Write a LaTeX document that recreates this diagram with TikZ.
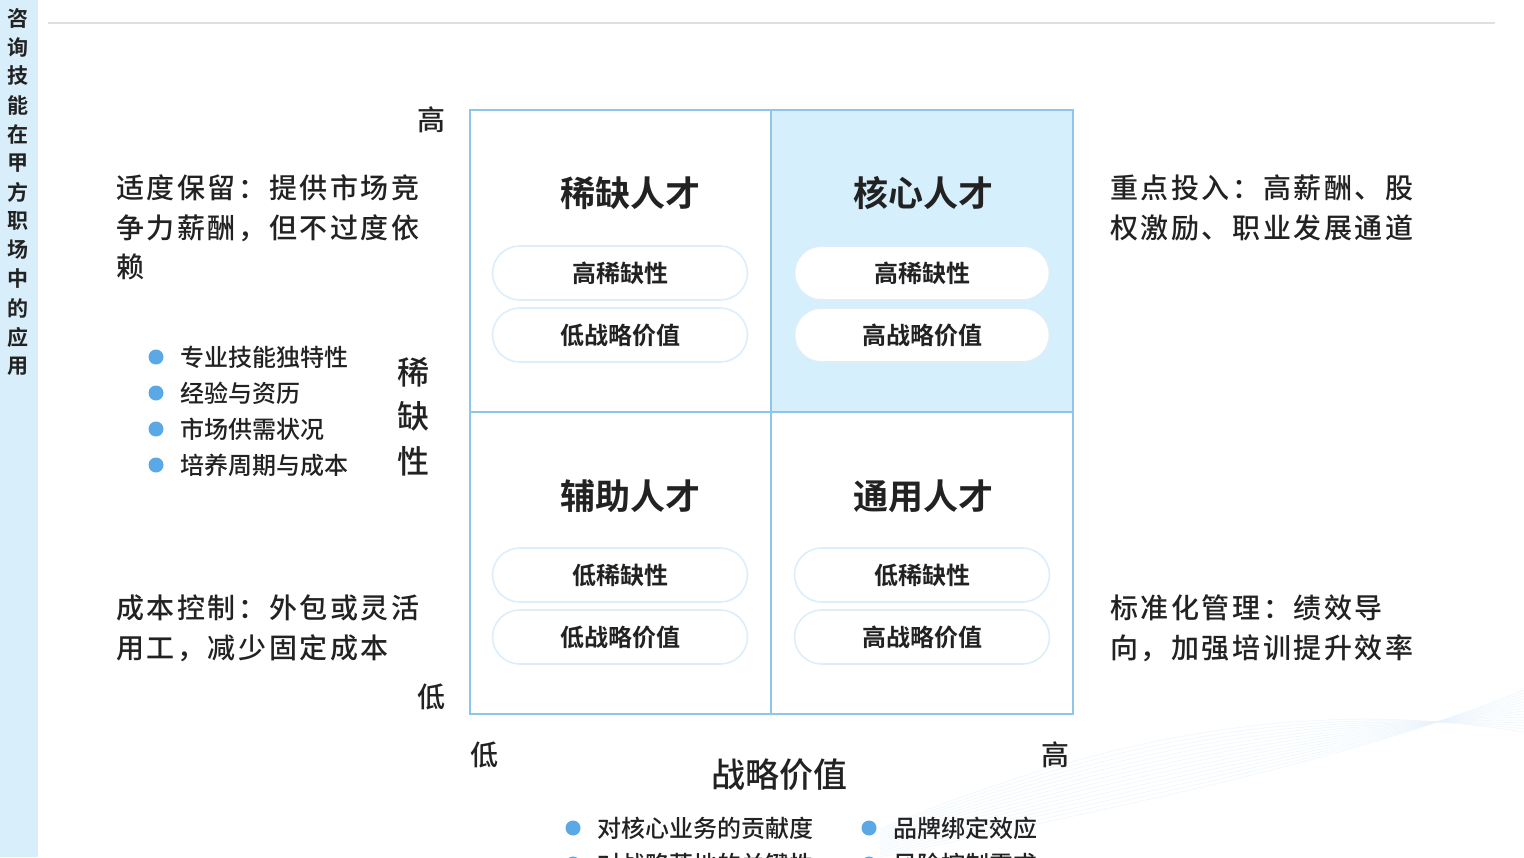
\documentclass[tikz,border=0pt]{standalone}
\usepackage{fontspec}
\setmainfont{Noto Sans CJK SC}
\newfontfamily\cjkb{Noto Sans CJK SC Bold}
\newfontfamily\cjkm{Noto Sans CJK SC Medium}
\newfontfamily\cjkw[LetterSpace=9]{Noto Sans CJK SC Medium}
\definecolor{side}{HTML}{D8EEFB}
\definecolor{gridc}{HTML}{8EC6EA}
\definecolor{cellb}{HTML}{D6EFFC}
\definecolor{dotc}{HTML}{5BA8E6}
\definecolor{pillb}{HTML}{DCEEF9}
\definecolor{txt}{HTML}{222222}
\tikzset{
  fs/.style={font=\fontsize{#1}{#1}\selectfont\cjkm, text=txt, inner sep=0pt},
  fw/.style={font=\fontsize{14}{14}\selectfont\cjkw, text=txt, inner sep=0pt, anchor=west},
  pill/.style={draw=pillb, line width=0.8pt, fill=white, rounded corners=13.5pt, minimum width=127.5pt, minimum height=27pt, font=\fontsize{12}{12}\selectfont\cjkb, text=txt},
  dot/.style={circle, fill=dotc, minimum size=7.5pt, inner sep=0pt},
  cellt/.style={font=\fontsize{17.5}{17.5}\selectfont\cjkb, text=txt},
}
\begin{document}
\begin{tikzpicture}[x=0.5pt,y=-0.5pt]
\useasboundingbox (0,0) rectangle (1524,857);
\begin{scope}
\clip (0,0) rectangle (1524,857);
% decorative curves
\foreach \i in {0,...,14}{
  \draw[dotc!15, opacity=0.5, line width=0.5pt] (880,{857-\i*2}) .. controls (1150,{800-\i*6}) and (1350,{760-\i*4}) .. (1524,{690+\i*3});
}
% sidebar
\fill[side] (0,0) rectangle (38,857);
\foreach \c [count=\k] in {咨,询,技,能,在,甲,方,职,场,中,的,应,用}{
  \node[fs=10.5, font=\fontsize{10.5}{10.5}\selectfont\cjkb] (s\k) at (18,{18+(\k-1)*29}) {\c};
}
\draw[black!12, line width=0.6pt] (48,23) -- (1495,23);
% grid
\fill[cellb] (771,110) rectangle (1073,412);
\draw[gridc, line width=1.2pt] (470,110) rectangle (1073,714);
\draw[gridc, line width=1.2pt] (771,110) -- (771,714);
\draw[gridc, line width=1.2pt] (470,412) -- (1073,412);
\node[cellt] (t1) at (630,193) {稀缺人才};
\node[cellt] (t2) at (923,193) {核心人才};
\node[cellt] (t3) at (630,496) {辅助人才};
\node[cellt] (t4) at (923,496) {通用人才};
\node[pill] (p1) at (620,273) {高稀缺性};
\node[pill] (p2) at (620,335) {低战略价值};
\node[pill] (p3) at (922,273) {高稀缺性};
\node[pill] (p4) at (922,335) {高战略价值};
\node[pill] (p5) at (620,575) {低稀缺性};
\node[pill] (p6) at (620,637) {低战略价值};
\node[pill] (p7) at (922,575) {低稀缺性};
\node[pill] (p8) at (922,637) {高战略价值};
% axis labels
\node[fs=14] (hi) at (431,120) {高};
\node[fs=14] (lo) at (431,697) {低};
\node[fs=16] (v1) at (413,372) {稀};
\node[fs=16] (v2) at (413,416) {缺};
\node[fs=16] (v3) at (413,461) {性};
\node[fs=14] (xlo) at (484,755) {低};
\node[fs=14] (xhi) at (1055,755) {高};
\node[fs=17] (xl) at (779,775) {战略价值};
% side texts
\node[fw] (a1) at (116,188) {适度保留：提供市场竞};
\node[fw] (a2) at (116,228) {争力薪酬，但不过度依};
\node[fw] (a3) at (116,267) {赖};
\node[fw] (b1) at (116,608) {成本控制：外包或灵活};
\node[fw] (b2) at (116,648) {用工，减少固定成本};
\node[fw] (c1) at (1110,188) {重点投入：高薪酬、股};
\node[fw] (c2) at (1110,228) {权激励、职业发展通道};
\node[fw] (d1) at (1110,608) {标准化管理：绩效导};
\node[fw] (d2) at (1110,648) {向，加强培训提升效率};
% left bullets
\foreach \t [count=\k] in {专业技能独特性,经验与资历,市场供需状况,培养周期与成本}{
  \node[dot] (ld\k) at (156,{357+(\k-1)*36}) {};
  \node[fs=12, anchor=west] (lt\k) at (180,{357+(\k-1)*36}) {\t};
}
% bottom bullets
\node[dot] (bd1) at (573,828) {};
\node[fs=12, anchor=west] (bt1) at (597,828) {对核心业务的贡献度};
\node[dot] (bd2) at (869,828) {};
\node[fs=12, anchor=west] (bt2) at (893,828) {品牌绑定效应};
\node[dot] (bd3) at (573,864) {};
\node[fs=12, anchor=west] (bt3) at (597,864) {对战略落地的关键性};
\node[dot] (bd4) at (869,864) {};
\node[fs=12, anchor=west] (bt4) at (893,864) {风险控制需求};
\end{scope}
\end{tikzpicture}
\end{document}
